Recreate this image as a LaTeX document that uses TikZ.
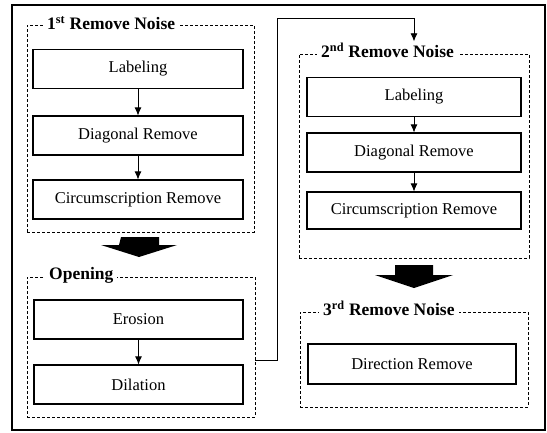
\documentclass[tikz,border=0pt]{standalone}
\usepackage{fontspec}
\setmainfont{Liberation Serif}
\usetikzlibrary{arrows.meta}
\begin{document}
\begin{tikzpicture}[x=1pt,y=-1pt,
  boxnode/.style={draw,line width=1.1pt,minimum width=210pt,minimum height=39pt,inner sep=0pt,font=\fontsize{16.5}{18}\selectfont},
  grp/.style={draw,line width=0.8pt,dash pattern=on 3pt off 2pt,inner sep=0pt},
  ttl/.style={fill=white,inner xsep=4pt,inner ysep=1pt,anchor=west,font=\fontsize{17.5}{20}\selectfont\bfseries},
  arr/.style={-{Latex[length=8pt,width=7pt]},line width=0.8pt},
  big/.style={fill=black}]
\useasboundingbox (0,0) rectangle (547,432);
\node[draw,line width=1.2pt,minimum width=533pt,minimum height=425pt,inner sep=0pt] (frame) at (278.5,217.5) {};
% group 1
\node[grp,minimum width=227pt,minimum height=207pt] (g1) at (140.5,128.5) {};
\node[ttl] (t1) at (43,23) {1\textsuperscript{st} Remove Noise};
\node[boxnode] (l1) at (138,69) {Labeling};
\node[boxnode] (d1) at (138,135.5) {Diagonal Remove};
\node[boxnode] (c1) at (138,199.5) {Circumscription Remove};
\draw[arr] (l1) -- (d1);
\draw[arr] (d1) -- (c1);
% big arrow 1
\coordinate (b1) at (140,237);
\fill[big] (b1) ++(-19,0) -- ++(38,0) -- ++(0,8) -- ++(18,0) -- ++(-38,12) -- ++(-38,-12) -- ++(18,0) -- cycle;
% opening
\node[grp,minimum width=228pt,minimum height=140pt] (gO) at (141,347) {};
\node[ttl] (tO) at (45,275) {Opening};
\node[boxnode,minimum width=209pt] (e) at (138.5,319.5) {Erosion};
\node[boxnode,minimum width=209pt] (dl) at (138.5,384.5) {Dilation};
\draw[arr] (e) -- (dl);
% group 2
\node[grp,minimum width=230pt,minimum height=204pt] (g2) at (414,156) {};
\node[ttl] (t2) at (317,50) {2\textsuperscript{nd} Remove Noise};
\node[boxnode,minimum width=214pt] (l2) at (414,97) {Labeling};
\node[boxnode,minimum width=214pt] (d2) at (414,152.5) {Diagonal Remove};
\node[boxnode,minimum width=214pt,minimum height=37pt] (c2) at (414,210.5) {Circumscription Remove};
\draw[arr] (l2) -- (d2);
\draw[arr] (d2) -- (c2);
% connector opening -> group 2
\draw[arr] (gO.east |- 0,360) -| (277,18) -| (l2 |- t2.north);
% big arrow 2
\coordinate (b2) at (414,265);
\fill[big] (b2) ++(-19,0) -- ++(38,0) -- ++(0,10) -- ++(20,0) -- ++(-39,13) -- ++(-39,-13) -- ++(20,0) -- cycle;
% group 3
\node[grp,minimum width=228pt,minimum height=95pt] (g3) at (414,359.5) {};
\node[ttl] (t3) at (319,308) {3\textsuperscript{rd} Remove Noise};
\node[boxnode,minimum width=208pt,minimum height=40pt] (dr) at (412,364) {Direction Remove};
\end{tikzpicture}
\end{document}
